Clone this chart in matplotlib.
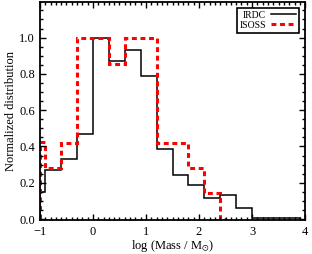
import matplotlib
matplotlib.use("Agg")
import matplotlib.pyplot as plt
import numpy as np
from matplotlib.ticker import MultipleLocator

# bin edges in log(Mass/Msun)
edges = [-1.0, -0.9, -0.6, -0.3, 0.0, 0.3, 0.6, 0.9, 1.2, 1.5, 1.8, 2.1, 2.4, 2.7, 3.0, 3.3, 3.6, 3.9]
irdc = [0.15, 0.273, 0.33, 0.47, 1.0, 0.873, 0.93, 0.79, 0.384, 0.244, 0.187, 0.117, 0.132, 0.059, 0.008, 0.008, 0.008]
isoss_edges = [-1.0, -0.9, -0.6, -0.3, 0.0, 0.3, 0.6, 0.9, 1.2, 1.5, 1.8, 2.1, 2.4, 2.5]
isoss = [0.425, 0.279, 0.42, 1.0, 1.0, 0.857, 1.0, 1.0, 0.42, 0.42, 0.282, 0.141, 0.0]
xticks = [-1, 0, 1, 2, 3, 4]
xticklabels = ['\u22121', '0', '1', '2', '3', '4']
yticks = [0, 0.2, 0.4, 0.6, 0.8, 1.0]
yticklabels = ['0.0', '0.2', '0.4', '0.6', '0.8', '1.0']

plt.rcParams['font.family'] = ['Liberation Serif', 'DejaVu Serif']
plt.rcParams['mathtext.fontset'] = 'stix'

fig = plt.figure(figsize=(3.12, 2.54), dpi=100)
ax = fig.add_axes([0.128, 0.134, 0.85, 0.858])

ax.stairs(irdc, edges, baseline=0, color='black', lw=1.1, label='IRDC')
ax.stairs(isoss, isoss_edges, baseline=0, color='red', lw=2.2,
          linestyle=(0, (1.6, 1.2)), label='ISOSS')

ax.set_xticks(xticks)
ax.set_xticklabels(xticklabels)
ax.set_yticks(yticks)
ax.set_yticklabels(yticklabels)
ax.xaxis.set_minor_locator(MultipleLocator(0.1))
ax.yaxis.set_minor_locator(MultipleLocator(0.05))
ax.set_xlim(-1, 4)
ax.set_ylim(-0.005, 1.196)
ax.tick_params(which='both', direction='in', top=True, right=True, labelsize=9, width=1.0)
ax.tick_params(which='major', length=4)
ax.tick_params(which='minor', length=2)
ax.tick_params(axis='x', which='major', pad=4)
for s in ax.spines.values():
    s.set_linewidth(1.3)

ax.set_xlabel(r'log (Mass / M$_{\odot}$)', fontsize=9, labelpad=0)
ax.set_ylabel('Normalized distribution', fontsize=9, labelpad=2)

leg = ax.legend(loc='upper right', fontsize=7, markerfirst=False, fancybox=False,
                borderpad=0.3, handlelength=2.6, handletextpad=0.5, labelspacing=0.1,
                borderaxespad=0.6, framealpha=1)
leg.get_frame().set_edgecolor('black')
leg.get_frame().set_linewidth(1.2)

fig.savefig('out.png', dpi=100)
